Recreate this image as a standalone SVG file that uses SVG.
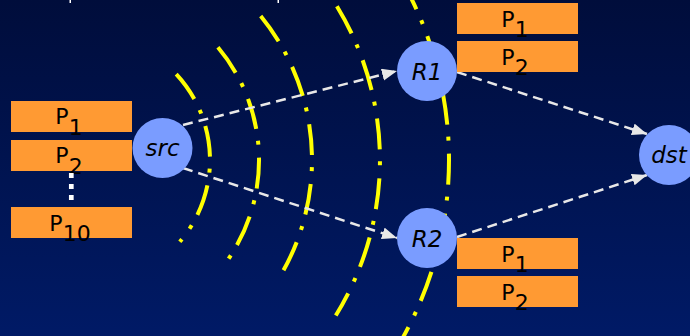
<svg xmlns="http://www.w3.org/2000/svg" width="690" height="336" viewBox="0 0 690 336">
  <defs>
    <linearGradient id="bg" x1="0" y1="0" x2="0" y2="1">
      <stop offset="0" stop-color="#000D3B"/>
      <stop offset="1" stop-color="#001A66"/>
    </linearGradient>
    <marker id="ah" markerUnits="userSpaceOnUse" markerWidth="16" markerHeight="13" refX="15" refY="6" orient="auto">
      <path d="M0,0 L15,6 L0,12 z" fill="#E8E8E8"/>
    </marker>
    <style>
      .arc { fill: none; stroke: #FFFF00; stroke-width: 4; stroke-dasharray: 31 12 4 13; }
      .conn { fill: none; stroke: #E8E8E8; stroke-width: 2.5; stroke-dasharray: 10 6; }
      .node { fill: #7A9CFF; }
      .lbl { font-family: "DejaVu Sans", "Noto Sans", sans-serif; font-style: italic; font-size: 23px; fill: #000000; text-anchor: middle; }
      .pkt { fill: #FF9A33; }
      .ptx { font-family: "DejaVu Sans", "Noto Sans", sans-serif; font-size: 22px; fill: #000000; text-anchor: middle; }
    </style>
  </defs>
  <rect x="0" y="0" width="690" height="336" fill="url(#bg)"/>
  <rect x="69.5" y="0" width="1.5" height="3" fill="#FFFFFF"/>
  <rect x="277.5" y="0" width="1.5" height="3" fill="#FFFFFF"/>

  <g id="wavefronts">
    <path class="arc" d="M176.2,74.1 A126,126 0 0 1 179.8,241.8"/>
    <path class="arc" d="M217.9,47.3 A175,175 0 0 1 225.6,262.9"/>
    <path class="arc" d="M260.7,15.9 A228,228 0 0 1 282.8,271.6"/>
    <path class="arc" d="M336.9,6.2 A296,296 0 0 1 335.8,315.5"/>
    <path class="arc" style="stroke-dashoffset:-4.7" d="M400.1,-22.5 A365,365 0 0 1 400.1,342.5"/>
  </g>

  <g id="connectors">
    <path class="conn" d="M183,125 L397,71" marker-end="url(#ah)"/>
    <path class="conn" d="M183,168 L397,238" marker-end="url(#ah)"/>
    <path class="conn" d="M457,72 L647,134" marker-end="url(#ah)"/>
    <path class="conn" d="M457,237 L647,175" marker-end="url(#ah)"/>
  </g>

  <g id="src-queue">
    <rect class="pkt" x="11" y="101" width="121" height="31"/>
    <text class="ptx" x="69" y="124">P<tspan dy="11">1</tspan></text>
    <rect class="pkt" x="11" y="140" width="121" height="31"/>
    <text class="ptx" x="69" y="163">P<tspan dy="11">2</tspan></text>
    <line x1="71.3" y1="173" x2="71.3" y2="201" stroke="#FFFFFF" stroke-width="4.7" stroke-dasharray="5 6"/>
    <rect class="pkt" x="11" y="207" width="121" height="31"/>
    <text class="ptx" x="70" y="231">P<tspan dy="10">10</tspan></text>
  </g>

  <g id="src">
    <circle class="node" cx="162.5" cy="148" r="30"/>
    <text class="lbl" x="162.5" y="155.7">src</text>
  </g>

  <g id="R1">
    <circle class="node" cx="427" cy="71" r="30"/>
    <text class="lbl" x="427" y="80">R1</text>
  </g>

  <g id="R1-queue">
    <rect class="pkt" x="457" y="3" width="121" height="31"/>
    <text class="ptx" x="515" y="26.5">P<tspan dy="10">1</tspan></text>
    <rect class="pkt" x="457" y="41" width="121" height="31"/>
    <text class="ptx" x="515" y="64.5">P<tspan dy="10">2</tspan></text>
  </g>

  <g id="R2">
    <circle class="node" cx="427" cy="238" r="30"/>
    <text class="lbl" x="427" y="247">R2</text>
  </g>

  <g id="R2-queue">
    <rect class="pkt" x="457" y="238" width="121" height="31"/>
    <text class="ptx" x="515" y="261.5">P<tspan dy="10">1</tspan></text>
    <rect class="pkt" x="457" y="276" width="121" height="31"/>
    <text class="ptx" x="515" y="299.5">P<tspan dy="10">2</tspan></text>
  </g>

  <g id="dst">
    <circle class="node" cx="669" cy="155" r="30"/>
    <text class="lbl" x="669" y="163.3">dst</text>
  </g>
</svg>
